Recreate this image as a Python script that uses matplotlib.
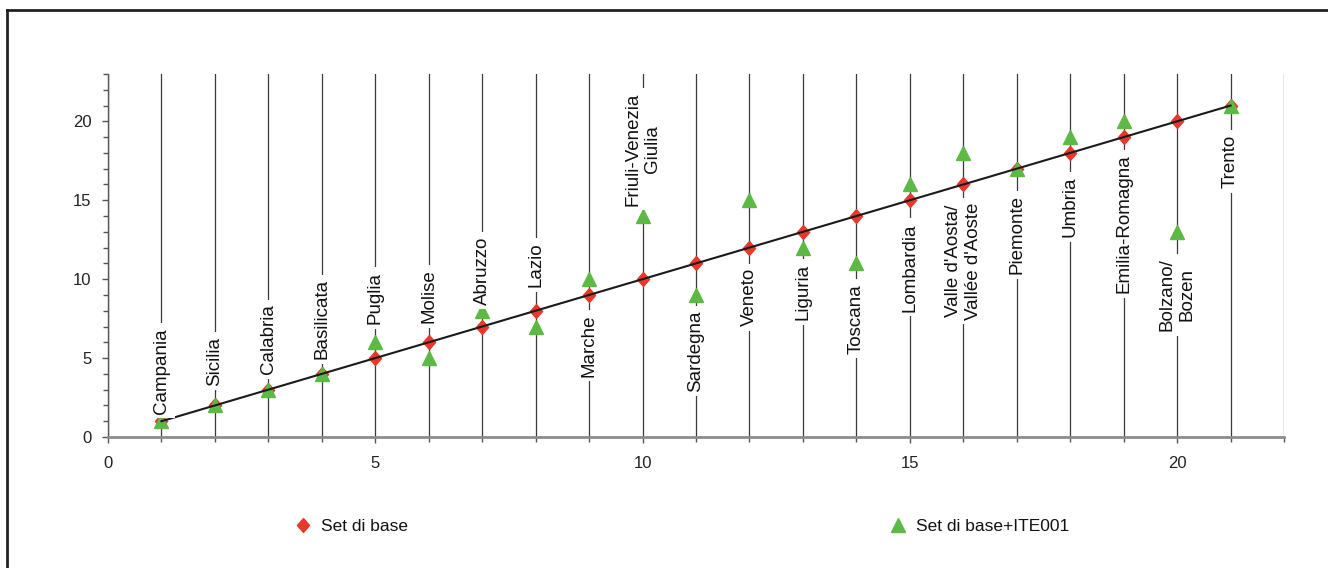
import matplotlib
matplotlib.use("Agg")
import matplotlib.pyplot as plt
from matplotlib.lines import Line2D
from matplotlib.ticker import MultipleLocator

plt.rcParams['font.family'] = ['Liberation Sans', 'DejaVu Sans']

# ---- data ----
regions = ["Campania", "Sicilia", "Calabria", "Basilicata", "Puglia", "Molise",
           "Abruzzo", "Lazio", "Marche", "Friuli-Venezia\nGiulia", "Sardegna",
           "Veneto", "Liguria", "Toscana", "Lombardia",
           "Valle d'Aosta/\nVallée d'Aoste", "Piemonte", "Umbria",
           "Emilia-Romagna", "Bolzano/\nBozen", "Trento"]
rank_base = [1, 2, 3, 4, 5, 6, 7, 8, 9, 10, 11, 12, 13, 14, 15, 16, 17, 18, 19, 20, 21]
rank_ite = [1, 2, 3, 4, 6, 5, 8, 7, 10, 14, 9, 15, 12, 11, 16, 18, 17, 19, 20, 13, 21]
series_names = ["Set di base", "Set di base+ITE001"]
# label placement (y centre of each rotated region label)
label_y = [4.2, 4.8, 6.2, 7.45, 8.8, 8.9, 10.55, 10.9, 5.8, 18.25, 5.45,
           8.85, 9.2, 7.5, 10.75, 11.15, 12.8, 14.6, 13.5, 9.0, 17.45]

RED = "#E8382B"
GREEN = "#5CB946"

W, H = 1328, 568
fig = plt.figure(figsize=(W / 100, H / 100), dpi=100)
ax = fig.add_axes([108 / W, 1 - 437 / H, (1284 - 108) / W, (437 - 74) / H])

ax.set_xlim(0, 22)
ax.set_ylim(0, 23)

ax.xaxis.set_major_locator(MultipleLocator(5))
ax.xaxis.set_minor_locator(MultipleLocator(1))
ax.yaxis.set_major_locator(MultipleLocator(5))
ax.yaxis.set_minor_locator(MultipleLocator(1))
ax.grid(True, which='both', axis='x', color='#3a3a3a', lw=0.9, zorder=0)

for s in ['top', 'right']:
    ax.spines[s].set_visible(False)
ax.spines['bottom'].set_color('#8c8c8c')
ax.spines['bottom'].set_linewidth(2.0)
ax.spines['left'].set_color('#555555')
ax.spines['left'].set_linewidth(1.0)

ax.tick_params(axis='both', which='major', direction='out', length=4, width=1,
               color='#555555', labelsize=12, labelcolor='#222222')
ax.tick_params(axis='both', which='minor', direction='out', length=3.5, width=1,
               color='#555555')
ax.tick_params(axis='x', which='major', pad=10)
ax.tick_params(axis='y', which='major', pad=8)

# markers
diamond = [(0, 1), (0.88, 0), (0, -1), (-0.88, 0), (0, 1)]
ax.plot(rank_base, rank_base, linestyle='none', marker=diamond, markersize=10,
        color=RED, zorder=3)
ax.plot(rank_base, rank_ite, linestyle='none', marker='^', markersize=10,
        color=GREEN, zorder=4)
ax.plot(rank_base, rank_base, color='#1a1a1a', lw=1.5, zorder=5)

# region labels
for xi, name, ly in zip(rank_base, regions, label_y):
    ax.text(xi, ly, name, rotation=90, ha='center', va='center',
            multialignment='center', fontsize=13.5, color='#111111',
            linespacing=1.2, zorder=6,
            bbox=dict(boxstyle='square,pad=0.25', facecolor='white',
                      edgecolor='none'))

# legend (two separate entries)
h1 = Line2D([], [], linestyle='none', marker=diamond, markersize=10, color=RED)
h2 = Line2D([], [], linestyle='none', marker='^', markersize=10, color=GREEN)
for h, name, x0 in [(h1, series_names[0], 295), (h2, series_names[1], 890)]:
    fig.legend([h], [name], loc='center left',
               bbox_to_anchor=(x0 / W, 1 - 526 / H), frameon=False,
               handlelength=0.95, handletextpad=0.55, borderpad=0,
               borderaxespad=0, fontsize=12.5, labelcolor='#111111')

# outer frame (partially visible)
fig.add_artist(Line2D([7 / W, 7 / W], [-0.05, 1 - 10 / H], transform=fig.transFigure,
                      color='#222222', lw=2.0))
fig.add_artist(Line2D([7 / W, 1.05], [1 - 10 / H, 1 - 10 / H], transform=fig.transFigure,
                      color='#222222', lw=2.0))

fig.savefig("out.png", dpi=100, facecolor='white')
